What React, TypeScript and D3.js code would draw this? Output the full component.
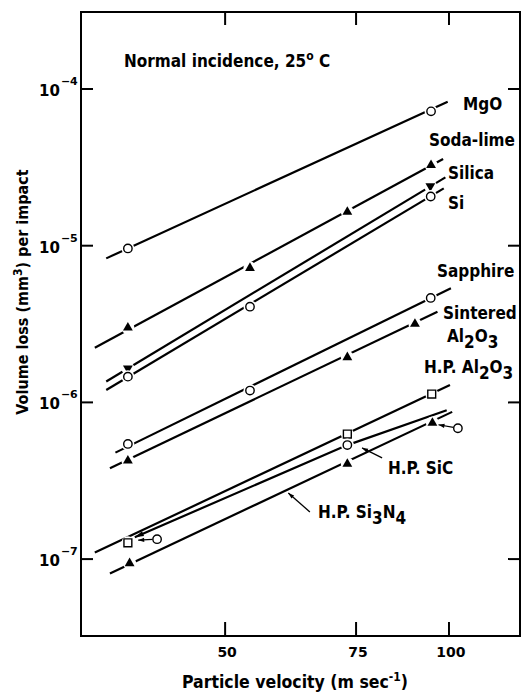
import React, { useEffect, useRef } from 'react';
import * as d3 from 'd3';

const W = 528, H = 694;

// readings: [velocity (m/s), volume loss (mm^3)]
const xTicks = [50, 75, 100];
const yTicks = [1e-4, 1e-5, 1e-6, 1e-7];
const yTickExp = ['-4', '-5', '-6', '-7'];

const mgoPts = [[37, 9.6e-6], [94.6, 7.2e-5]];
const mgoLine = [[34.6, 8.3e-6], [99.6, 8.3e-5]];
const sodaPts = [[37, 3.0e-6], [54, 7.2e-6], [73, 1.64e-5], [94.6, 3.27e-5]];
const sodaLine = [[33.4, 2.23e-6], [98.2, 3.57e-5]];
const silicaPts = [[37, 1.65e-6], [94.4, 2.4e-5]];
const silicaLine = [[34.6, 1.36e-6], [98.9, 2.73e-5]];
const siPts = [[37, 1.46e-6], [54, 4.08e-6], [94.5, 2.06e-5]];
const siLine = [[34.6, 1.2e-6], [98.4, 2.32e-5]];
const sapphirePts = [[37, 5.43e-7], [54, 1.19e-6], [94.5, 4.64e-6]];
const sapphireLine = [[35.6, 4.78e-7], [100.6, 5.35e-6]];
const sinteredPts = [[37, 4.25e-7], [73, 1.94e-6], [90, 3.17e-6]];
const sinteredLine = [[35, 3.8e-7], [96.5, 3.79e-6]];
const hpAluminaPts = [[37, 1.27e-7], [73, 6.28e-7], [94.8, 1.13e-6]];
const hpAluminaLine = [[33.4, 1.1e-7], [100.3, 1.29e-6]];
const sicPts = [[73, 5.34e-7]];
const sicLine = [[37.8, 1.38e-7], [73, 5.34e-7], [99.3, 8.9e-7]];
const sicMoved = [[40.5, 1.34e-7], [102.8, 6.84e-7]];
const sicMovedTo = [[38.2, 1.32e-7], [96.8, 7.2e-7]];
const si3n4Pts = [[37.2, 9.4e-8], [73, 4.05e-7], [95, 7.4e-7]];
const si3n4Line = [[35, 8.1e-8], [101, 8.7e-7]];
const sicLeader = [[81.3, 4.42e-7], [76.4, 5.12e-7]];
const si3n4Leader = [[65, 2.0e-7], [60.8, 2.64e-7]];

const FONT = "'DejaVu Sans Condensed', 'DejaVu Sans', sans-serif";
const NUMFONT = "'DejaVu Sans', sans-serif";

const series = [
  { pts: mgoPts, line: mgoLine, mark: 'circle' },
  { pts: sodaPts, line: sodaLine, mark: 'up' },
  { pts: silicaPts, line: silicaLine, mark: 'down' },
  { pts: siPts, line: siLine, mark: 'circle' },
  { pts: sapphirePts, line: sapphireLine, mark: 'circle' },
  { pts: sinteredPts, line: sinteredLine, mark: 'up' },
  { pts: hpAluminaPts, line: hpAluminaLine, mark: 'square' },
  { pts: sicPts, line: sicLine, mark: 'circle' },
  { pts: si3n4Pts, line: si3n4Line, mark: 'up' },
];

// label text pieces: [text, dy]
const labels = [
  { x: 463, y: 110, parts: [['MgO', 0]] },
  { x: 429, y: 146, parts: [['Soda-lime', 0]] },
  { x: 448, y: 179, parts: [['Silica', 0]] },
  { x: 448, y: 209, parts: [['Si', 0]] },
  { x: 437, y: 277, parts: [['Sapphire', 0]] },
  { x: 443, y: 319, parts: [['Sintered', 0]] },
  { x: 447, y: 342, parts: [['Al', 0], ['2', 6], ['O', -6], ['3', 6]] },
  { x: 424, y: 373, parts: [['H.P. Al', 0], ['2', 6], ['O', -6], ['3', 6]] },
  { x: 388, y: 474, parts: [['H.P. SiC', 0]] },
  { x: 318, y: 518, parts: [['H.P. Si', 0], ['3', 6], ['N', -6], ['4', 6]] },
];

export default function App() {
  const ref = useRef<SVGSVGElement>(null);

  useEffect(() => {
    const svg = d3.select(ref.current);
    svg.selectAll('*').remove();

    const margin = { top: 12, right: 8, bottom: 58, left: 81 };
    const x = d3.scaleLog().domain([32, 124.6]).range([margin.left, W - margin.right]);
    const y = d3.scaleLog().domain([3.23e-8, 3.1e-4]).range([H - margin.bottom, margin.top]);
    const x0 = margin.left, x1 = W - margin.right, y0 = margin.top, y1 = H - margin.bottom;

    const g = svg.append('g');

    // frame
    g.append('rect')
      .attr('x', x0).attr('y', y0)
      .attr('width', x1 - x0).attr('height', y1 - y0)
      .attr('fill', 'none').attr('stroke', '#000').attr('stroke-width', 2);

    // ticks
    xTicks.forEach((t) => {
      g.append('line').attr('x1', x(t)).attr('x2', x(t)).attr('y1', y1).attr('y2', y1 - 14)
        .attr('stroke', '#000').attr('stroke-width', 2);
      g.append('line').attr('x1', x(t)).attr('x2', x(t)).attr('y1', y0).attr('y2', y0 + 13)
        .attr('stroke', '#000').attr('stroke-width', 2);
      g.append('text').attr('x', x(t) + 2).attr('y', y1 + 21)
        .attr('text-anchor', 'middle').attr('font-family', NUMFONT)
        .attr('font-weight', 'bold').attr('font-size', 14).text(t);
    });
    yTicks.forEach((t, i) => {
      g.append('line').attr('x1', x0).attr('x2', x0 + 12).attr('y1', y(t)).attr('y2', y(t))
        .attr('stroke', '#000').attr('stroke-width', 2);
      g.append('line').attr('x1', x1).attr('x2', x1 - 12).attr('y1', y(t)).attr('y2', y(t))
        .attr('stroke', '#000').attr('stroke-width', 2);
      const tx = g.append('text').attr('x', 39).attr('y', y(t) + 7)
        .attr('font-family', NUMFONT).attr('font-weight', 'bold').attr('font-size', 15);
      tx.append('tspan').text('10');
      tx.append('tspan').attr('dy', -11).attr('dx', 1).attr('font-size', 11).text('\u2212' + yTickExp[i].slice(1));
    });

    const line = d3.line<number[]>().x((d) => x(d[0])).y((d) => y(d[1]));

    // fitted lines
    series.forEach((s) => {
      g.append('path').datum(s.line).attr('d', line)
        .attr('fill', 'none').attr('stroke', '#000').attr('stroke-width', 2.2);
    });

    // SiC line start arrowhead
    const ax = x(sicLine[0][0]), ay = y(sicLine[0][1]);
    const bx = x(sicLine[1][0]), by = y(sicLine[1][1]);
    const ang = Math.atan2(by - ay, bx - ax);
    const arrowHead = (px: number, py: number, a: number, len: number, wid: number) => {
      const p1 = [px + len * Math.cos(a) - wid * Math.sin(a), py + len * Math.sin(a) + wid * Math.cos(a)];
      const p2 = [px + len * Math.cos(a) + wid * Math.sin(a), py + len * Math.sin(a) - wid * Math.cos(a)];
      g.append('path').attr('d', `M${px},${py}L${p1[0]},${p1[1]}L${p2[0]},${p2[1]}Z`).attr('fill', '#000');
    };
    arrowHead(ax, ay, ang, 9, 2.5);

    // markers
    const tri = d3.symbol().type(d3.symbolTriangle).size(42)();
    const sq = d3.symbol().type(d3.symbolSquare).size(62)();
    const drawMark = (mark: string, px: number, py: number) => {
      g.append('circle').attr('cx', px).attr('cy', py).attr('r', 6.5).attr('fill', '#fff');
      if (mark === 'circle') {
        g.append('circle').attr('cx', px).attr('cy', py).attr('r', 4.2)
          .attr('fill', '#fff').attr('stroke', '#000').attr('stroke-width', 1.4);
      } else if (mark === 'square') {
        g.append('path').attr('d', sq).attr('transform', `translate(${px},${py})`)
          .attr('fill', '#fff').attr('stroke', '#000').attr('stroke-width', 1.4);
      } else {
        g.append('path').attr('d', tri)
          .attr('transform', `translate(${px},${py})${mark === 'down' ? ' rotate(180)' : ''}`)
          .attr('fill', '#000');
      }
    };
    series.forEach((s) => s.pts.forEach((p) => drawMark(s.mark, x(p[0]), y(p[1]))));

    // displaced SiC points with arrows
    sicMoved.forEach((p, i) => {
      const cx = x(p[0]), cy = y(p[1]);
      const tx = x(sicMovedTo[i][0]), ty = y(sicMovedTo[i][1]);
      const a = Math.atan2(cy - ty, cx - tx);
      g.append('line').attr('x1', cx - 4.5 * Math.cos(a)).attr('y1', cy - 4.5 * Math.sin(a))
        .attr('x2', tx).attr('y2', ty).attr('stroke', '#000').attr('stroke-width', 1.2);
      arrowHead(tx, ty, a, 6, 2.2);
      g.append('circle').attr('cx', cx).attr('cy', cy).attr('r', 4.2)
        .attr('fill', '#fff').attr('stroke', '#000').attr('stroke-width', 1.4);
    });

    // leaders
    [sicLeader, si3n4Leader].forEach((l) => {
      const sx = x(l[0][0]), sy = y(l[0][1]), ex = x(l[1][0]), ey = y(l[1][1]);
      g.append('line').attr('x1', sx).attr('y1', sy).attr('x2', ex).attr('y2', ey)
        .attr('stroke', '#000').attr('stroke-width', 1.3);
      arrowHead(ex, ey, Math.atan2(sy - ey, sx - ex), 6, 2);
    });

    // series labels
    labels.forEach((lb) => {
      const t = g.append('text').attr('x', lb.x).attr('y', lb.y)
        .attr('font-family', FONT).attr('font-weight', 'bold').attr('font-size', 17);
      lb.parts.forEach((p) => t.append('tspan').attr('dy', p[1]).text(p[0]));
    });

    // title
    const title = g.append('text').attr('x', 124).attr('y', 67)
      .attr('font-family', FONT).attr('font-weight', 'bold').attr('font-size', 17);
    title.append('tspan').text('Normal incidence, 25');
    title.append('tspan').attr('dy', -7).attr('font-size', 12).text('o');
    title.append('tspan').attr('dy', 7).text(' C');

    // axis titles
    const xl = g.append('text').attr('x', 295).attr('y', 688)
      .attr('text-anchor', 'middle').attr('font-family', FONT)
      .attr('font-weight', 'bold').attr('font-size', 17.5);
    xl.append('tspan').text('Particle velocity (m sec');
    xl.append('tspan').attr('dy', -7).attr('font-size', 12).text('-1');
    xl.append('tspan').attr('dy', 7).text(')');

    const yl = g.append('text').attr('transform', 'translate(28,292) rotate(-90)')
      .attr('text-anchor', 'middle').attr('font-family', FONT)
      .attr('font-weight', 'bold').attr('font-size', 16);
    yl.append('tspan').text('Volume loss (mm');
    yl.append('tspan').attr('dy', -6).attr('font-size', 12).text('3');
    yl.append('tspan').attr('dy', 6).text(') per impact');
  }, []);

  return (
    <svg ref={ref} width={W} height={H}
      style={{ position: 'absolute', left: 0, top: 0, background: '#fff' }} />
  );
}
